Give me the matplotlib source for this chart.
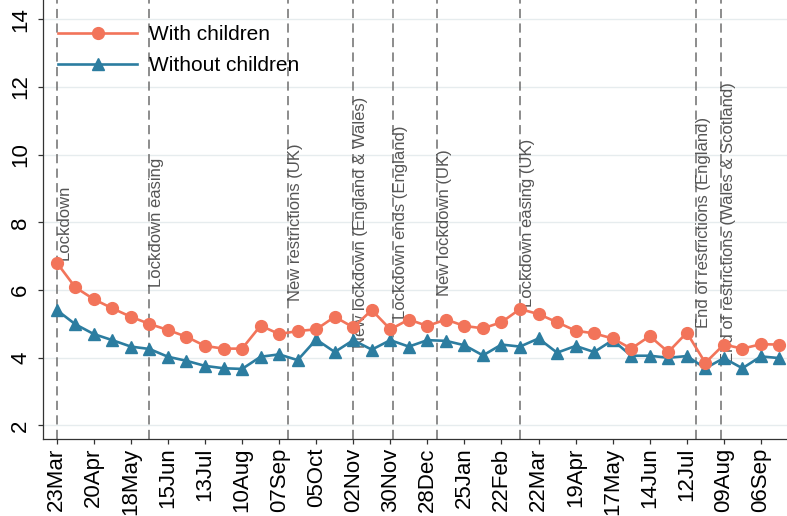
import matplotlib
matplotlib.use("Agg")
import matplotlib.pyplot as plt
import numpy as np
import pandas as pd

plt.rcParams['font.family'] = ['Liberation Sans', 'DejaVu Sans']

# Fortnightly survey waves
dates = pd.date_range("2020-03-23", periods=40, freq="14D")

with_children = [6.81, 6.08, 5.73, 5.46, 5.21, 5.00, 4.82, 4.62, 4.35, 4.27,
                 4.27, 4.95, 4.70, 4.79, 4.84, 5.21, 4.90, 5.41, 4.84, 5.13,
                 4.94, 5.13, 4.94, 4.87, 5.05, 5.44, 5.29, 5.05, 4.80, 4.72,
                 4.57, 4.27, 4.64, 4.17, 4.74, 3.85, 4.39, 4.27, 4.40, 4.39]

without_children = [5.41, 4.99, 4.70, 4.52, 4.33, 4.26, 4.03, 3.91, 3.76, 3.69,
                    3.67, 4.03, 4.10, 3.93, 4.54, 4.17, 4.52, 4.24, 4.52, 4.33,
                    4.52, 4.50, 4.37, 4.07, 4.39, 4.33, 4.57, 4.15, 4.35, 4.17,
                    4.52, 4.06, 4.06, 4.00, 4.05, 3.69, 3.99, 3.69, 4.04, 3.99]

series_labels = ["With children", "Without children"]

event_dates = ["2020-03-23", "2020-06-01", "2020-09-14", "2020-11-02",
               "2020-12-02", "2021-01-04", "2021-03-08", "2021-07-19",
               "2021-08-07"]
event_labels = ["Lockdown", "Lockdown easing", "New restrictions (UK)",
                "New lockdown (England & Wales)", "Lockdown ends (England)",
                "New lockdown (UK)", "Lockdown easing (UK)",
                "End of restrictions (England)",
                "End of restrictions (Wales & Scotland)"]

tick_dates = pd.date_range("2020-03-23", "2021-09-06", freq="28D")
y_ticks = [2, 4, 6, 8, 10, 12, 14]

orange = "#F2745A"
blue = "#2C7DA0"

fig = plt.figure(figsize=(7.87, 5.16), dpi=100)
ax = fig.add_axes([43 / 787, 77 / 516, 1 - 43 / 787, 1 - 77 / 516])

ax.set_ylim(1.60, 14.57)
start = pd.Timestamp("2020-03-23")
ax.set_xlim(start - pd.Timedelta(days=10.4), start + pd.Timedelta(days=551.7))

ax.grid(axis="y", color="#E6ECEE", linewidth=1.0)
ax.set_axisbelow(True)

# Policy events: dashed markers with vertical captions
for d, lab in zip(event_dates, event_labels):
    dt = pd.Timestamp(d)
    ax.axvline(dt, color="#6E6E6E", linewidth=1.1, dashes=(6, 3.5), zorder=1)
    ax.text(dt, 8, lab, rotation=90, ha="left", va="center",
            fontsize=12, color="#555555", zorder=2)

ax.plot(dates, with_children, color=orange, linewidth=1.9, marker="o",
        markersize=8.5, markeredgecolor=orange, label=series_labels[0], zorder=4)
ax.plot(dates, without_children, color=blue, linewidth=1.9, marker="^",
        markersize=8.5, markeredgecolor=blue, label=series_labels[1], zorder=3)

ax.set_yticks(y_ticks)
ax.set_yticklabels([str(v) for v in y_ticks], rotation=90, va="center")
ax.set_xticks(tick_dates)
ax.set_xticklabels([d.strftime("%d%b") for d in tick_dates], rotation=90)
ax.tick_params(axis="both", labelsize=16, length=3.6, width=0.9,
               color="#333333", pad=2.5)
ax.tick_params(axis="y", pad=5)

for side in ["top", "right"]:
    ax.spines[side].set_visible(False)
for side in ["left", "bottom"]:
    ax.spines[side].set_color("#333333")
    ax.spines[side].set_linewidth(0.9)

leg = ax.legend(loc="upper left", bbox_to_anchor=(58 / 787, 1 - 25 / 516),
                bbox_transform=fig.transFigure, frameon=False, fontsize=15,
                handlelength=3.8, handletextpad=0.55, labelspacing=0.58,
                borderpad=0, borderaxespad=0)

fig.savefig("out.png", dpi=100)
